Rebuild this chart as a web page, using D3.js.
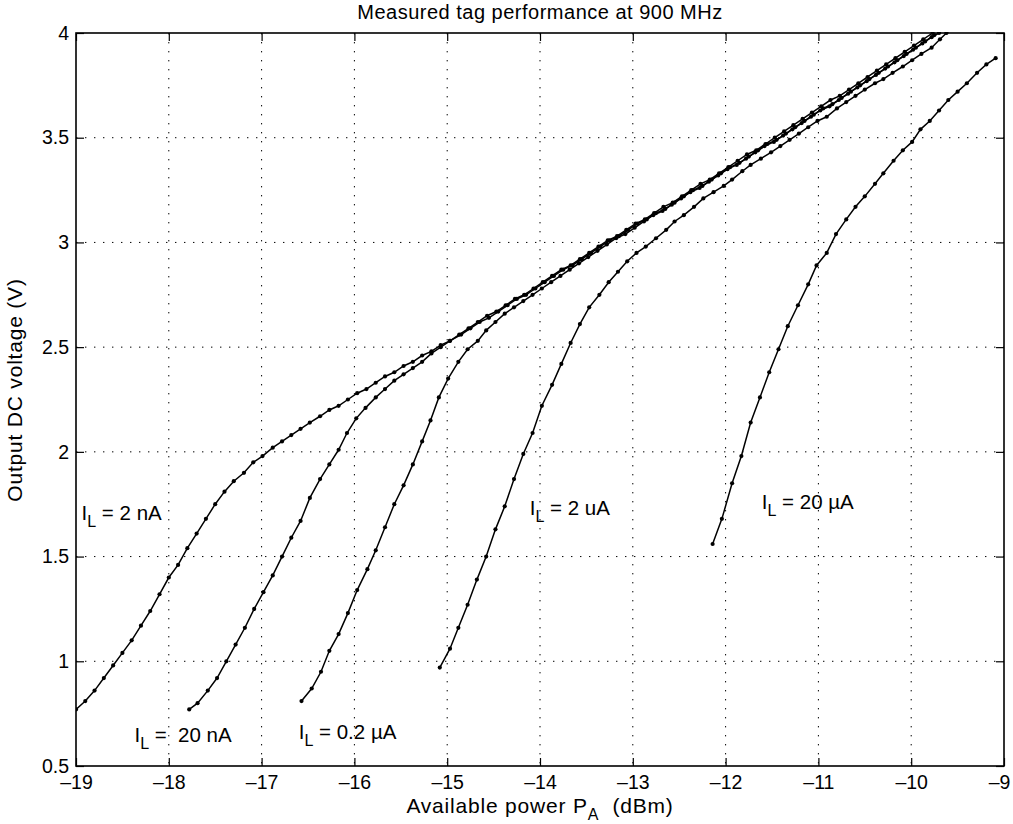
<!DOCTYPE html>
<html><head><meta charset="utf-8">
<script src="https://cdn.jsdelivr.net/npm/d3@7"></script>
<style>body{margin:0;background:#fff}svg text{font-family:"Liberation Sans",Arial,Helvetica,sans-serif;fill:#000}</style>
</head><body><svg id="c" width="1013" height="824"></svg>
<script>
const xTicks = [-19,-18,-17,-16,-15,-14,-13,-12,-11,-10,-9];
const yTicks = [0.5,1,1.5,2,2.5,3,3.5,4];
const yTickLabels = ["0.5","1","1.5","2","2.5","3","3.5","4"];

const p2nA = [-19.00,-18.90,-18.80,-18.70,-18.60,-18.50,-18.40,-18.30,-18.20,-18.10,-18.00,-17.90,-17.80,-17.70,-17.60,-17.50,-17.40,-17.30,-17.19,-17.09,-16.99,-16.88,-16.78,-16.68,-16.58,-16.48,-16.37,-16.27,-16.17,-16.07,-15.97,-15.87,-15.77,-15.67,-15.57,-15.47,-15.37,-15.27,-15.17,-15.07,-14.97,-14.87,-14.77,-14.67,-14.57,-14.47,-14.37,-14.27,-14.17,-14.07,-13.97,-13.87,-13.77,-13.67,-13.57,-13.47,-13.37,-13.27,-13.17,-13.07,-12.97,-12.87,-12.77,-12.67,-12.57,-12.47,-12.37,-12.27,-12.17,-12.07,-11.97,-11.87,-11.77,-11.67,-11.57,-11.47,-11.37,-11.27,-11.17,-11.07,-10.97,-10.87,-10.77,-10.67,-10.57,-10.47,-10.37,-10.27,-10.17,-10.07,-9.97,-9.87,-9.77];
const v2nA = [0.77,0.81,0.86,0.92,0.98,1.04,1.10,1.17,1.24,1.32,1.40,1.46,1.54,1.61,1.68,1.75,1.81,1.86,1.90,1.95,1.98,2.02,2.05,2.08,2.11,2.14,2.17,2.20,2.22,2.25,2.28,2.30,2.33,2.36,2.38,2.41,2.43,2.46,2.48,2.51,2.53,2.56,2.59,2.62,2.65,2.67,2.70,2.73,2.75,2.78,2.81,2.84,2.87,2.89,2.92,2.95,2.98,3.01,3.03,3.06,3.09,3.11,3.14,3.17,3.19,3.22,3.25,3.28,3.30,3.33,3.36,3.39,3.42,3.44,3.47,3.50,3.53,3.56,3.59,3.62,3.65,3.68,3.70,3.73,3.76,3.79,3.82,3.85,3.88,3.91,3.94,3.97,4.00];

const p20nA = [-17.78,-17.69,-17.58,-17.48,-17.38,-17.28,-17.18,-17.08,-16.98,-16.88,-16.78,-16.68,-16.58,-16.48,-16.37,-16.27,-16.17,-16.08,-15.98,-15.88,-15.77,-15.67,-15.57,-15.47,-15.37,-15.27,-15.17,-15.07,-14.97,-14.85,-14.75,-14.65,-14.55,-14.45,-14.35,-14.25,-14.15,-14.05,-13.95,-13.85,-13.75,-13.65,-13.55,-13.45,-13.35,-13.25,-13.15,-13.05,-12.95,-12.85,-12.75,-12.65,-12.55,-12.45,-12.35,-12.25,-12.15,-12.05,-11.95,-11.85,-11.75,-11.65,-11.55,-11.45,-11.35,-11.25,-11.15,-11.05,-10.95,-10.85,-10.75,-10.65,-10.55,-10.45,-10.35,-10.25,-10.15,-10.05,-9.95,-9.85,-9.75];
const v20nA = [0.77,0.80,0.86,0.92,1.00,1.08,1.16,1.25,1.33,1.41,1.50,1.59,1.67,1.78,1.87,1.94,2.01,2.09,2.16,2.21,2.26,2.30,2.34,2.37,2.40,2.43,2.47,2.50,2.53,2.56,2.59,2.62,2.64,2.67,2.70,2.73,2.75,2.78,2.81,2.84,2.87,2.89,2.92,2.95,2.98,3.01,3.03,3.06,3.09,3.11,3.14,3.16,3.19,3.22,3.25,3.27,3.30,3.33,3.36,3.38,3.41,3.44,3.47,3.49,3.52,3.55,3.58,3.61,3.64,3.66,3.69,3.72,3.75,3.78,3.81,3.84,3.87,3.90,3.93,3.96,3.99];

const p02uA = [-16.57,-16.46,-16.36,-16.27,-16.17,-16.07,-15.97,-15.86,-15.77,-15.67,-15.57,-15.47,-15.37,-15.27,-15.18,-15.09,-14.99,-14.88,-14.78,-14.67,-14.58,-14.48,-14.38,-14.28,-14.18,-14.08,-13.98,-13.88,-13.78,-13.68,-13.58,-13.48,-13.38,-13.28,-13.18,-13.08,-12.98,-12.88,-12.78,-12.68,-12.58,-12.48,-12.38,-12.28,-12.18,-12.08,-11.98,-11.88,-11.78,-11.68,-11.58,-11.48,-11.38,-11.28,-11.18,-11.08,-10.98,-10.88,-10.78,-10.68,-10.58,-10.48,-10.38,-10.28,-10.18,-10.08,-9.98,-9.88,-9.78,-9.70];
const v02uA = [0.81,0.87,0.95,1.05,1.13,1.23,1.34,1.44,1.53,1.64,1.75,1.84,1.94,2.05,2.15,2.26,2.35,2.43,2.49,2.53,2.58,2.62,2.66,2.69,2.72,2.75,2.78,2.81,2.84,2.87,2.90,2.93,2.96,2.99,3.02,3.04,3.07,3.10,3.13,3.15,3.18,3.21,3.24,3.26,3.29,3.32,3.35,3.37,3.40,3.43,3.46,3.48,3.51,3.54,3.57,3.60,3.63,3.65,3.68,3.71,3.74,3.77,3.80,3.83,3.86,3.89,3.92,3.95,3.98,4.00];

const p2uA = [-15.08,-14.97,-14.88,-14.78,-14.68,-14.58,-14.48,-14.38,-14.28,-14.18,-14.08,-13.98,-13.87,-13.77,-13.67,-13.57,-13.47,-13.36,-13.26,-13.16,-13.06,-12.96,-12.86,-12.75,-12.64,-12.55,-12.45,-12.34,-12.24,-12.13,-12.02,-11.93,-11.82,-11.73,-11.62,-11.51,-11.41,-11.31,-11.21,-11.11,-11.01,-10.91,-10.80,-10.70,-10.60,-10.50,-10.39,-10.30,-10.20,-10.09,-9.99,-9.89,-9.78,-9.69,-9.62];
const v2uA = [0.97,1.06,1.16,1.27,1.39,1.50,1.63,1.74,1.87,1.99,2.09,2.22,2.32,2.42,2.52,2.61,2.69,2.75,2.81,2.86,2.91,2.95,2.98,3.02,3.06,3.10,3.13,3.17,3.21,3.24,3.27,3.30,3.34,3.37,3.40,3.43,3.46,3.49,3.52,3.55,3.58,3.60,3.64,3.67,3.70,3.73,3.76,3.78,3.81,3.84,3.87,3.90,3.93,3.97,4.00];

const p20uA = [-12.14,-12.04,-11.93,-11.83,-11.73,-11.63,-11.53,-11.43,-11.33,-11.22,-11.11,-11.02,-10.91,-10.81,-10.70,-10.60,-10.50,-10.39,-10.30,-10.19,-10.09,-9.99,-9.90,-9.80,-9.70,-9.60,-9.50,-9.40,-9.29,-9.19,-9.09];
const v20uA = [1.56,1.68,1.85,1.98,2.14,2.26,2.38,2.49,2.60,2.70,2.80,2.89,2.95,3.04,3.11,3.17,3.22,3.28,3.33,3.39,3.44,3.48,3.54,3.58,3.63,3.68,3.72,3.76,3.81,3.85,3.88];

const seriesNames = ["2 nA","20 nA","0.2 µA","2 uA","20 µA"];
const seriesP = [p2nA,p20nA,p02uA,p2uA,p20uA];
const seriesV = [v2nA,v20nA,v02uA,v2uA,v20uA];
const labelText = ["= 2 nA","=  20 nA","= 0.2 µA","= 2 uA","= 20 µA"];
const labelPos = [[-18.94,1.71],[-18.37,0.65],[-16.60,0.66],[-14.11,1.73],[-11.61,1.76]];

const titleText = "Measured tag performance at 900 MHz";
const xLabelMain = "Available power P", xLabelSub = "A", xLabelEnd = "  (dBm)";
const yLabelText = "Output DC voltage (V)";

const W=1013,H=824, L=76, R=1004, T=33, B=766;
const svg = d3.select("#c");
const x = d3.scaleLinear().domain([-19,-9]).range([L,R]);
const y = d3.scaleLinear().domain([0.5,4]).range([B,T]);

// grid
const grid = svg.append("g").attr("stroke","#000").attr("stroke-width",1).attr("stroke-dasharray","1.4,7.6");
grid.selectAll("line.gx").data(xTicks.slice(1,-1)).enter().append("line")
  .attr("x1",d=>x(d)).attr("x2",d=>x(d)).attr("y1",T).attr("y2",B);
grid.selectAll("line.gy").data(yTicks.slice(1,-1)).enter().append("line")
  .attr("x1",L).attr("x2",R).attr("y1",d=>y(d)).attr("y2",d=>y(d));

// axes with inward ticks
const tl = 8;
const axB = d3.axisBottom(x).tickValues(xTicks).tickSizeInner(-tl).tickSizeOuter(0).tickPadding(9).tickFormat(d=>String(d).replace("-","\u2013"));
const axT = d3.axisTop(x).tickValues(xTicks).tickSizeInner(-tl).tickSizeOuter(0).tickFormat("");
const axL = d3.axisLeft(y).tickValues(yTicks).tickSizeInner(-tl).tickSizeOuter(0).tickPadding(7).tickFormat((d,i)=>yTickLabels[i]);
const axR = d3.axisRight(y).tickValues(yTicks).tickSizeInner(-tl).tickSizeOuter(0).tickFormat("");
function style(g){g.select(".domain").remove();g.selectAll("line").attr("stroke","#000").attr("stroke-width",1.2);g.selectAll("text").attr("font-size",19.5).attr("fill","#000").style("font-family",'"Liberation Sans",Arial,sans-serif');}
const gB = svg.append("g").attr("transform",`translate(0,${B})`).call(axB).call(style);
gB.selectAll("text").filter(d=>d===-9).attr("dx",-5);
svg.append("g").attr("transform",`translate(0,${T})`).call(axT).call(style);
svg.append("g").attr("transform",`translate(${L},0)`).call(axL).call(style);
svg.append("g").attr("transform",`translate(${R},0)`).call(axR).call(style);
svg.append("rect").attr("x",L).attr("y",T).attr("width",R-L).attr("height",B-T).attr("fill","none").attr("stroke","#000").attr("stroke-width",1.6);

// curves
svg.append("clipPath").attr("id","cp").append("rect").attr("x",L).attr("y",T-1).attr("width",R-L).attr("height",B-T+1);
const line = d3.line().x(d=>x(d[0])).y(d=>y(d[1]));
const plot = svg.append("g").attr("clip-path","url(#cp)");
seriesP.forEach((ps,i)=>{
  const pts = ps.map((p,j)=>[p,seriesV[i][j]]);
  plot.append("path").datum(pts).attr("d",line).attr("fill","none").attr("stroke","#000").attr("stroke-width",1.5);
  plot.selectAll(null).data(pts).enter().append("circle").attr("cx",d=>x(d[0])).attr("cy",d=>y(d[1])).attr("r",2.1).attr("fill","#000");
});

// labels
labelPos.forEach((lp,i)=>{
  const t = svg.append("text").attr("x",x(lp[0])).attr("y",y(lp[1])+7).attr("font-size",20.5).style("white-space","pre");
  t.append("tspan").text("I");
  t.append("tspan").attr("dy",7).attr("font-size",16).text("L");
  t.append("tspan").attr("dy",-7).text(" "+labelText[i]);
});

// title & axis labels
svg.append("text").attr("x",(L+R)/2).attr("y",19).attr("text-anchor","middle").attr("font-size",20).attr("letter-spacing",0.5).text(titleText);
const xl = svg.append("text").attr("x",(L+R)/2).attr("y",813).attr("text-anchor","middle").attr("font-size",21).attr("letter-spacing",0.8).style("white-space","pre");
xl.append("tspan").text(xLabelMain);
xl.append("tspan").attr("dy",7).attr("font-size",16).text(xLabelSub);
xl.append("tspan").attr("dy",-7).text(xLabelEnd);
svg.append("text").attr("transform",`translate(22,${390}) rotate(-90)`).attr("text-anchor","middle").attr("font-size",21).attr("letter-spacing",0.8).text(yLabelText);
</script></body></html>
